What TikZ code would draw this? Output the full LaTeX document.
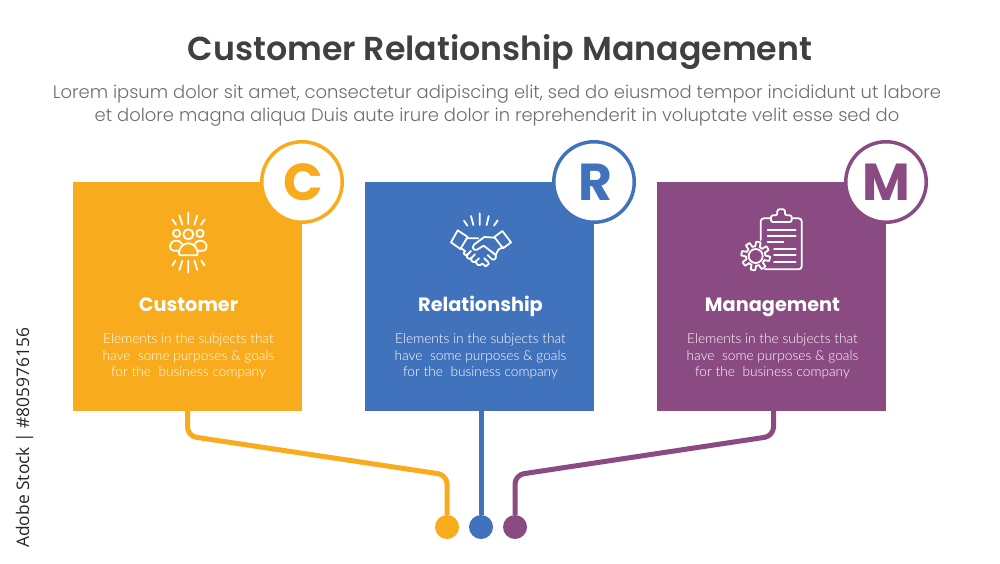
\documentclass[tikz,border=0pt]{standalone}
\usepackage{fontspec}
\setmainfont{Poppins}
\newfontfamily\titlef{Poppins SemiBold}
\newfontfamily\subf{Poppins Light}
\newfontfamily\bodyf{Lato Light}
\newfontfamily\stockf{Open Sans}
\definecolor{cO}{HTML}{F8AB1C}
\definecolor{cB}{HTML}{4172BC}
\definecolor{cP}{HTML}{8A4B82}
\definecolor{cT}{HTML}{404040}
\definecolor{cS}{HTML}{6E6E6E}
\tikzset{
  card/.style={rectangle,inner sep=0pt,minimum size=229pt,fill=#1},
  badge/.style={circle,inner sep=0pt,minimum size=80.5pt,fill=white,draw=#1,line width=3.5pt},
  letter/.style={text=#1,inner sep=0pt,font=\bfseries\fontsize{52}{52}\selectfont},
  dotnode/.style={circle,inner sep=0pt,minimum size=24pt,fill=#1},
  link/.style={line width=5pt,rounded corners=9pt,draw=#1},
  head/.style={anchor=base,text=white,font=\bfseries\fontsize{19.3}{20}\selectfont},
  bodytext/.style={anchor=base,text=white,font=\bodyf\fontsize{13.7}{16}\selectfont},
  subline/.style={anchor=base,text=cS,font=\subf\fontsize{17.97}{20}\selectfont},
  ico/.style={draw=white,line width=1.8pt,line cap=round,line join=round}
}
\begin{document}
\begin{tikzpicture}[x=1pt,y=-1pt]
\useasboundingbox (0,0) rectangle (1000,563);
% headings
\node[anchor=base,text=cT,font=\titlef\fontsize{33.2}{34}\selectfont] (title) at (500,60) {Customer Relationship Management};
\node[subline] (sub1) at (497,98) {Lorem ipsum dolor sit amet, consectetur adipiscing elit, sed do eiusmod tempor incididunt ut labore};
\node[subline] (sub2) at (497,121) {et dolore magna aliqua Duis aute irure dolor in reprehenderit in voluptate velit esse sed do};
% cards
\node[card=cO] (boxC) at (187.5,296.5) {};
\node[card=cB] (boxR) at (479.5,296.5) {};
\node[card=cP] (boxM) at (771.5,296.5) {};
% dots
\node[dotnode=cO] (dotC) at (447,527) {};
\node[dotnode=cB] (dotR) at (481,527) {};
\node[dotnode=cP] (dotM) at (515,527) {};
% connectors
\coordinate (kC1) at (187.5,436);
\coordinate (kC2) at (447,475);
\coordinate (kM1) at (773.5,436);
\coordinate (kM2) at (515,475);
\draw[link=cO] (boxC.south) -- (kC1) -- (kC2) -- (dotC.north);
\draw[link=cB] (boxR.south -| dotR) -- (dotR.north);
\draw[link=cP] (boxM.south -| kM1) -- (kM1) -- (kM2) -- (dotM.north);
% badges
\node[badge=cO] (bC) at (302,182) {};
\node[badge=cB] (bR) at (594,182) {};
\node[badge=cP] (bM) at (886,182) {};
\node[letter=cO] (lC) at (303,182) {C};
\node[letter=cB] (lR) at (595,182) {R};
\node[letter=cP] (lM) at (886.5,182) {M};
% card text
\node[head] (hC) at (188.5,311) {Customer};
\node[head] (hR) at (480.5,311) {Relationship};
\node[head] (hM) at (772.5,311) {Management};
\foreach \n/\x in {C/188.5,R/480.5,M/772.5}{
  \node[bodytext] (a\n) at (\x,343) {Elements in the subjects that};
  \node[bodytext] (b\n) at (\x,360) {have\ \ some purposes \& goals};
  \node[bodytext] (c\n) at (\x,376) {for the\ \ business company};
}
% customer icon
\begin{scope}[shift={(60,130)},scale=1/3,ico]
  \draw (385,248)--(385,282) (358,256)--(367,284) (337,268)--(348,284) (412,256)--(403,284) (434,268)--(423,284);
  \draw (385,428)--(385,392) (358,420)--(367,392) (337,407)--(346,392) (412,420)--(403,392) (434,407)--(424,392);
  \draw (385,313) circle (15) (350,310) circle (11) (420,310) circle (11);
  \draw (360,376)--(410,376) (360,376) .. controls (352,376) and (358,340) .. (385,340) .. controls (412,340) and (418,376) .. (410,376);
  \draw (358,362)--(340,362) .. controls (325,362) and (325,332) .. (350,332) .. controls (357,332) and (362,335) .. (366,342);
  \draw (412,362)--(430,362) .. controls (445,362) and (445,332) .. (420,332) .. controls (413,332) and (408,335) .. (404,342);
\end{scope}
% handshake icon
\begin{scope}[shift={(445,205)},scale=1/3,ico]
  \draw (104,25)--(104,60) (78,33)--(85,60) (57,47)--(67,62) (131,33)--(125,60) (158,46)--(147,62);
  \draw (38,76)--(68,96)--(46,132)--(18,112)--cycle;
  \draw (172,78)--(198,112)--(174,130)--(148,96)--cycle;
  \draw (64,100)--(100,100) (148,98)--(118,96)--(88,118) .. controls (80,126) and (84,138) .. (96,134)--(116,122)--(152,150);
  \draw (46,128)--(60,138) (174,126)--(160,134)--(152,150);
  \draw (60,138) .. controls (50,146) and (62,154) .. (68,148) .. controls (60,158) and (72,166) .. (80,158) .. controls (74,168) and (86,176) .. (94,168) .. controls (90,178) and (104,186) .. (112,176);
  \draw (112,176)--(122,184)--(132,176) (128,150)--(140,162) (118,160)--(130,172) (140,140)--(152,150) (152,150) .. controls (156,160) and (146,168) .. (140,162);
  \draw (68,148)--(78,138) (80,158)--(90,148) (94,168)--(102,160);
\end{scope}
% clipboard icon
\begin{scope}[shift={(700,150)},scale=1/3,ico]
  \draw[rounded corners=3pt] (213,205)--(182,205)--(182,270);
  \draw[rounded corners=3pt] (195,358)--(305,358)--(305,205)--(275,205);
  \draw[rounded corners=2pt] (213,216)--(213,196)--(232,196)--(232,178)--(255,178)--(255,196)--(275,196)--(275,216)--cycle;
  \draw (203,240)--(287,240) (203,257)--(287,257) (203,275)--(250,275) (222,297)--(287,297) (222,315)--(287,315) (222,335)--(287,335);
  \draw (167,318) circle (21);
  \draw[shift={(167,318)}] plot[domain=0:360,samples=145,smooth] ({(36+max(-7,min(7,22*sin(8*\x)))) *cos(\x)},{(36+max(-7,min(7,22*sin(8*\x))))*sin(\x)}) -- cycle;
\end{scope}
% stock label
\node[anchor=base west,inner sep=0pt,rotate=90,text=black!85,font=\stockf\fontsize{17.4}{18}\selectfont] (stock) at (29,548) {Adobe Stock | \#805976156};
\end{tikzpicture}
\end{document}
